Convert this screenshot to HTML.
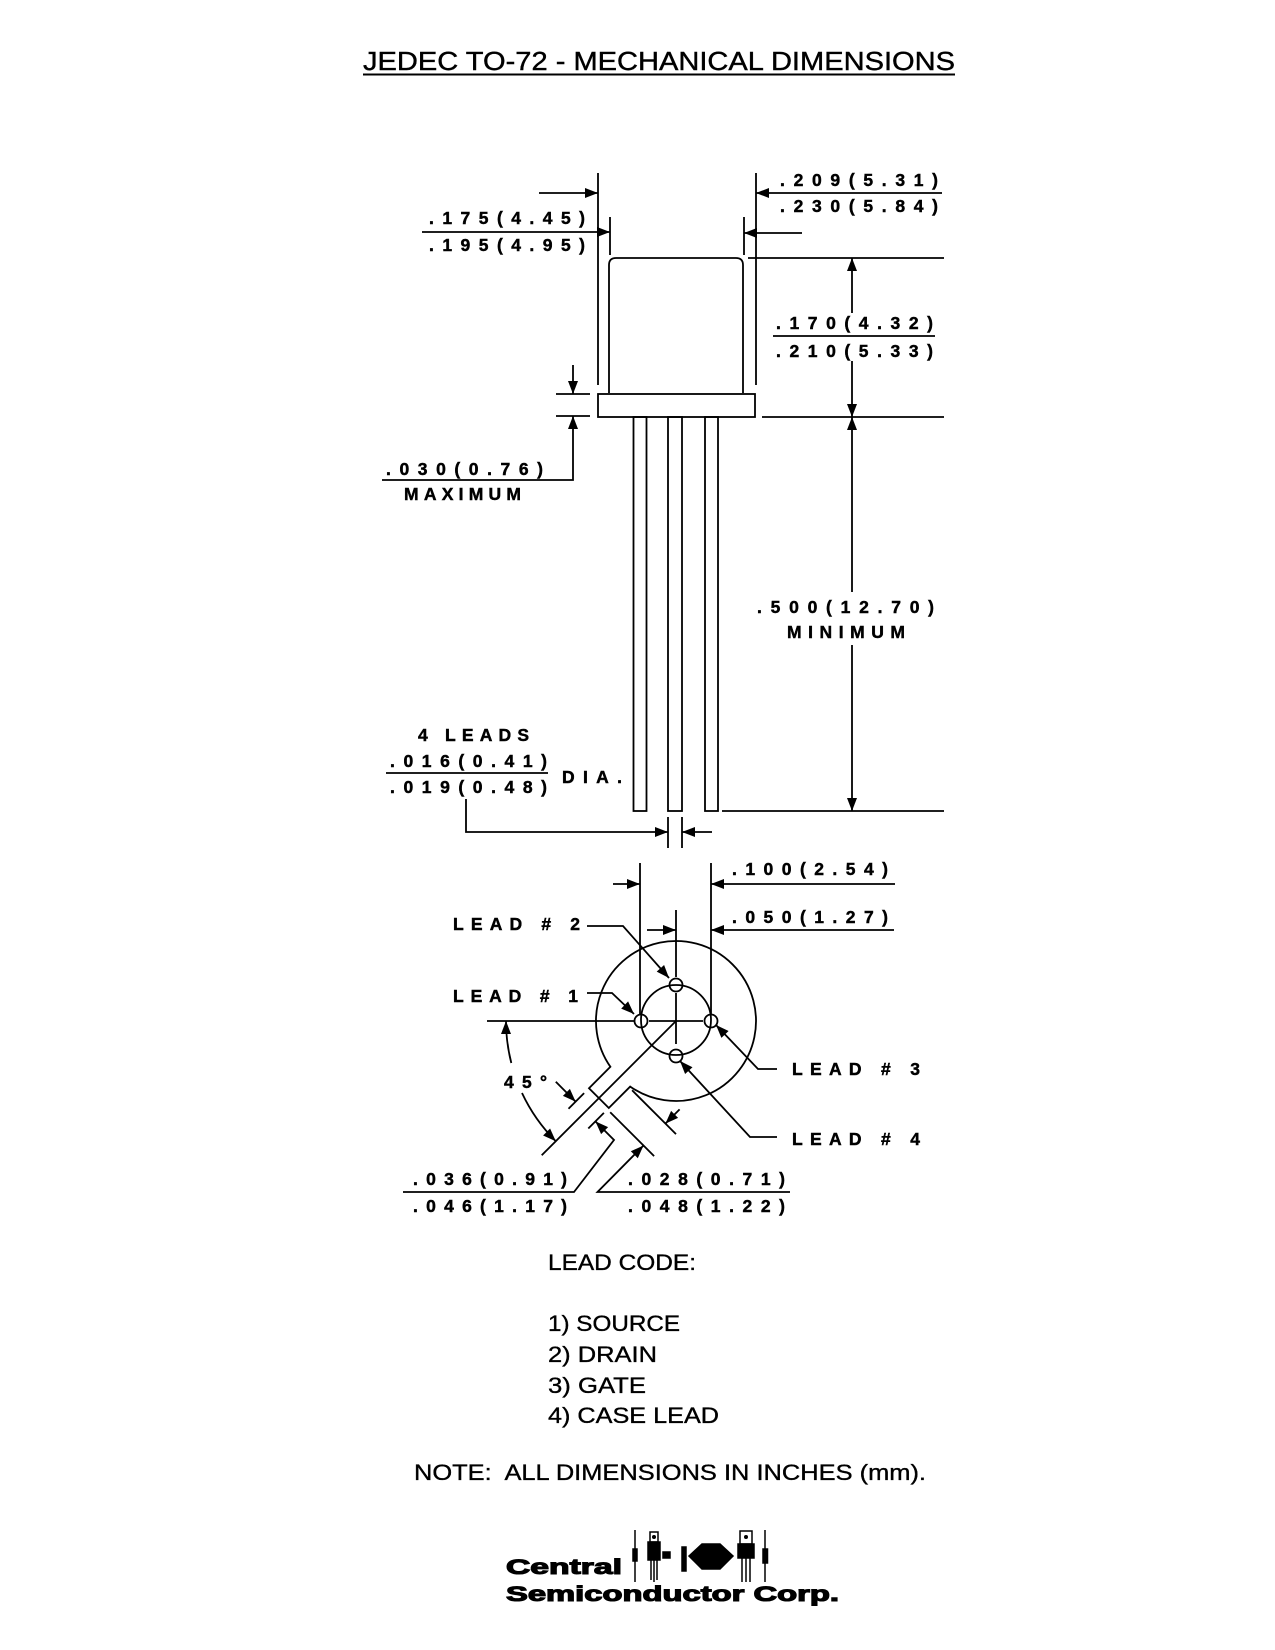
<!DOCTYPE html>
<html>
<head>
<meta charset="utf-8">
<style>
  html, body { margin:0; padding:0; background:#fff; }
  svg { display:block; }
  .d { font-family:"Liberation Sans", Arial, sans-serif; font-weight:bold; font-size:17.5px; fill:#000; stroke:#000; stroke-width:0.45; }
  .t { font-family:"Liberation Sans", Arial, sans-serif; font-size:22px; fill:#000; stroke:#000; stroke-width:0.35; }
  .lg { font-family:"Liberation Sans", Arial, sans-serif; font-weight:bold; font-size:21px; fill:#000; stroke:#000; stroke-width:1.1; }
</style>
</head>
<body>
<svg width="1275" height="1650" viewBox="0 0 1275 1650" xmlns="http://www.w3.org/2000/svg">
<rect x="0" y="0" width="1275" height="1650" fill="#fff"/>

<!-- Title -->
<text x="363" y="70" font-family="Liberation Sans, Arial, sans-serif" font-size="26" stroke="#000" stroke-width="0.4" textLength="592" lengthAdjust="spacingAndGlyphs">JEDEC TO-72 - MECHANICAL DIMENSIONS</text>
<line x1="363" y1="74.5" x2="955" y2="74.5" stroke="#000" stroke-width="2"/>

<g stroke="#000" stroke-width="1.8" fill="none">
  <!-- side view extension lines -->
  <line x1="598" y1="173" x2="598" y2="385"/>
  <line x1="610" y1="217" x2="610" y2="255"/>
  <line x1="756" y1="173" x2="756" y2="385"/>
  <line x1="744" y1="217" x2="744" y2="255"/>
  <line x1="539" y1="193" x2="598" y2="193"/>
  <line x1="422" y1="232" x2="610" y2="232"/>
  <line x1="756" y1="193" x2="942" y2="193"/>
  <line x1="744" y1="233" x2="802" y2="233"/>

  <!-- body -->
  <path d="M609,393 L609,265 Q609,258 616,258 L736,258 Q743,258 743,265 L743,393"/>
  <rect x="598" y="394" width="157" height="23"/>
  <!-- leads -->
  <rect x="633.5" y="417" width="13" height="394"/>
  <rect x="668" y="417" width="14" height="394"/>
  <rect x="705" y="417" width="13" height="394"/>

  <!-- right ext lines -->
  <line x1="748" y1="258" x2="944" y2="258"/>
  <line x1="762" y1="417" x2="944" y2="417"/>
  <line x1="722" y1="811" x2="944" y2="811"/>
  <line x1="852" y1="258" x2="852" y2="313"/>
  <line x1="852" y1="361" x2="852" y2="417"/>
  <line x1="852" y1="417" x2="852" y2="592"/>
  <line x1="852" y1="645" x2="852" y2="811"/>
  <line x1="773" y1="336" x2="935" y2="336"/>

  <!-- .030 -->
  <line x1="556" y1="394" x2="590" y2="394"/>
  <line x1="556" y1="416" x2="590" y2="416"/>
  <line x1="573" y1="365" x2="573" y2="394"/>
  <polyline points="573,416 573,480 382,480"/>

  <!-- .016 -->
  <line x1="386" y1="773" x2="548" y2="773"/>
  <polyline points="466,799 466,832 668,832"/>
  <line x1="668" y1="817" x2="668" y2="848"/>
  <line x1="682" y1="817" x2="682" y2="848"/>
  <line x1="682" y1="832" x2="712" y2="832"/>

  <!-- bottom view -->
  <path d="M630.2,1086.6 A80,80 0 1 0 610.4,1066.8 L589,1088.2 L608.8,1108 Z"/>
  <circle cx="676" cy="1020" r="35"/>
  <circle cx="641" cy="1021" r="6.5"/>
  <circle cx="676" cy="985" r="6.5"/>
  <circle cx="711" cy="1021" r="6.5"/>
  <circle cx="676" cy="1056" r="6.5"/>
  <line x1="649" y1="1021" x2="703" y2="1021"/>
  <line x1="676" y1="910" x2="676" y2="977"/>
  <line x1="676" y1="993" x2="676" y2="1044"/>
  <line x1="676" y1="1021" x2="541.7" y2="1155.3"/>
  <line x1="487" y1="1021" x2="634" y2="1021"/>

  <!-- .100 / .050 -->
  <line x1="640" y1="863" x2="640" y2="1014"/>
  <line x1="711" y1="863" x2="711" y2="1014"/>
  <line x1="613" y1="884" x2="640" y2="884"/>
  <line x1="711" y1="884" x2="895" y2="884"/>
  <line x1="647" y1="930" x2="676" y2="930"/>
  <line x1="711" y1="930" x2="894" y2="930"/>

  <!-- lead leaders -->
  <polyline points="587,926 623,926 669,978"/>
  <polyline points="587,993 612,993 634,1014"/>
  <polyline points="777,1069 758,1069 716,1025"/>
  <polyline points="777,1137 750,1137 680,1061"/>

  <!-- 45 deg arc -->
  <path d="M506,1021 A170,170 0 0 0 511.3,1063"/>
  <path d="M522,1093 A170,170 0 0 0 555.8,1141.2"/>

  <!-- tab ext lines -->
  <line x1="584.1" y1="1093.1" x2="568.5" y2="1108.7"/>
  <line x1="603.9" y1="1112.9" x2="588.3" y2="1128.5"/>
  <line x1="555.8" y1="1081.8" x2="575.6" y2="1101.6"/>
  <polyline points="595.4,1121.4 614,1140 574,1192 403,1192"/>
  <line x1="632.1" y1="1090.3" x2="676" y2="1134.1"/>
  <line x1="610.2" y1="1112.2" x2="654.1" y2="1156.1"/>
  <line x1="679.6" y1="1109.4" x2="665.4" y2="1123.6"/>
  <polyline points="643.5,1145.5 597.5,1192 790,1192"/>
</g>

<!-- arrowheads -->
<g fill="#000" stroke="none">
  <polygon points="598,193 585,188 585,198"/>
  <polygon points="610,232 597,227 597,237"/>
  <polygon points="756,193 769,188 769,198"/>
  <polygon points="744,233 757,228 757,238"/>
  <polygon points="852,258 847,271 857,271"/>
  <polygon points="852,417 847,404 857,404"/>
  <polygon points="852,417 847,430 857,430"/>
  <polygon points="852,811 847,798 857,798"/>
  <polygon points="573,394 568,381 578,381"/>
  <polygon points="573,416 568,429 578,429"/>
  <polygon points="668,832 655,827 655,837"/>
  <polygon points="682,832 695,827 695,837"/>
  <polygon points="640,884 627,879 627,889"/>
  <polygon points="711,884 724,879 724,889"/>
  <polygon points="676,930 663,925 663,935"/>
  <polygon points="711,930 724,925 724,935"/>
  <polygon points="669,978 656.7,971.6 664.1,965"/>
  <polygon points="634,1014 621.2,1008.6 628.1,1001.4"/>
  <polygon points="716,1025 728.6,1031 721.4,1037.9"/>
  <polygon points="680,1061 692.5,1067.2 685.1,1074"/>
  <polygon points="575.6,1101.6 562.9,1095.9 569.9,1088.9"/>
  <polygon points="595.4,1121.4 601.1,1134.1 608.1,1127.1"/>
  <polygon points="665.4,1123.6 678.1,1117.9 671.1,1110.9"/>
  <polygon points="643.5,1145.5 637.8,1158.2 630.8,1151.2"/>
  <polygon points="506,1021 501,1034 511,1034"/>
  <polygon points="555.8,1141.2 543.1,1135.5 550.1,1128.5"/>
</g>

<!-- dimension text -->
<text class="d" x="429" y="224" textLength="156" lengthAdjust="spacing">.175(4.45)</text>
<text class="d" x="429" y="251" textLength="156" lengthAdjust="spacing">.195(4.95)</text>
<text class="d" x="780" y="186" textLength="158" lengthAdjust="spacing">.209(5.31)</text>
<text class="d" x="780" y="212" textLength="158" lengthAdjust="spacing">.230(5.84)</text>
<text class="d" x="776" y="329" textLength="157" lengthAdjust="spacing">.170(4.32)</text>
<text class="d" x="776" y="357" textLength="157" lengthAdjust="spacing">.210(5.33)</text>
<text class="d" x="386" y="475" textLength="157" lengthAdjust="spacing">.030(0.76)</text>
<text class="d" x="404" y="500" textLength="117" lengthAdjust="spacing">MAXIMUM</text>
<text class="d" x="757" y="613" textLength="177" lengthAdjust="spacing">.500(12.70)</text>
<text class="d" x="787" y="638" textLength="118" lengthAdjust="spacing">MINIMUM</text>
<text class="d" x="418" y="741" textLength="111" lengthAdjust="spacing">4 LEADS</text>
<text class="d" x="390" y="767" textLength="157" lengthAdjust="spacing">.016(0.41)</text>
<text class="d" x="390" y="793" textLength="157" lengthAdjust="spacing">.019(0.48)</text>
<text class="d" x="562" y="783" textLength="60" lengthAdjust="spacing">DIA.</text>
<text class="d" x="732" y="875" textLength="156" lengthAdjust="spacing">.100(2.54)</text>
<text class="d" x="732" y="923" textLength="156" lengthAdjust="spacing">.050(1.27)</text>
<text class="d" x="453" y="930" textLength="127" lengthAdjust="spacing" font-size="18">LEAD # 2</text>
<text class="d" x="453" y="1002" textLength="125" lengthAdjust="spacing" font-size="18">LEAD # 1</text>
<text class="d" x="792" y="1075" textLength="128" lengthAdjust="spacing" font-size="18">LEAD # 3</text>
<text class="d" x="792" y="1145" textLength="128" lengthAdjust="spacing" font-size="18">LEAD # 4</text>
<text class="d" x="504" y="1088" textLength="43" lengthAdjust="spacing">45°</text>
<text class="d" x="413" y="1185" textLength="154" lengthAdjust="spacing">.036(0.91)</text>
<text class="d" x="413" y="1212" textLength="154" lengthAdjust="spacing">.046(1.17)</text>
<text class="d" x="628" y="1185" textLength="157" lengthAdjust="spacing">.028(0.71)</text>
<text class="d" x="628" y="1212" textLength="157" lengthAdjust="spacing">.048(1.22)</text>

<!-- lead code -->
<text class="t" x="548" y="1270" textLength="148" lengthAdjust="spacingAndGlyphs">LEAD CODE:</text>
<text class="t" x="548" y="1331" textLength="132" lengthAdjust="spacingAndGlyphs">1) SOURCE</text>
<text class="t" x="548" y="1362" textLength="109" lengthAdjust="spacingAndGlyphs">2) DRAIN</text>
<text class="t" x="548" y="1393" textLength="98" lengthAdjust="spacingAndGlyphs">3) GATE</text>
<text class="t" x="548" y="1423" textLength="171" lengthAdjust="spacingAndGlyphs">4) CASE LEAD</text>
<text class="t" x="414" y="1480" textLength="512" lengthAdjust="spacingAndGlyphs" xml:space="preserve">NOTE:  ALL DIMENSIONS IN INCHES (mm).</text>

<!-- logo -->
<text class="lg" x="506" y="1574" textLength="116" lengthAdjust="spacingAndGlyphs">Central</text>
<text class="lg" x="506" y="1601" textLength="333" lengthAdjust="spacingAndGlyphs">Semiconductor Corp.</text>
<g stroke="#000" stroke-width="1.5" fill="#000">
  <line x1="635" y1="1530" x2="635" y2="1582"/>
  <rect x="633" y="1549" width="4" height="12"/>
  <line x1="765" y1="1530" x2="765" y2="1582"/>
  <rect x="763" y="1549" width="4.5" height="14"/>
  <!-- transistor 1 -->
  <rect x="650" y="1532" width="8" height="10" fill="#fff"/>
  <rect x="648" y="1542" width="12" height="18"/>
  <line x1="651" y1="1560" x2="651" y2="1580"/>
  <line x1="654" y1="1560" x2="654" y2="1582"/>
  <line x1="657" y1="1560" x2="657" y2="1580"/>
  <!-- small -->
  <rect x="663" y="1552" width="7" height="6"/>
  <rect x="682" y="1547" width="4" height="24"/>
  <!-- TO-3 diamond -->
  <polygon points="689,1556 702,1544 720,1544 733,1556 720,1569 702,1569"/>
  <!-- TO-220 -->
  <rect x="740" y="1531" width="12" height="13" fill="#fff"/>
  <rect x="738" y="1544" width="16" height="14"/>
  <line x1="742" y1="1558" x2="742" y2="1582"/>
  <line x1="746" y1="1558" x2="746" y2="1582"/>
  <line x1="750" y1="1558" x2="750" y2="1582"/>
</g>
<circle cx="746" cy="1537" r="2" fill="#000"/>
<circle cx="654" cy="1537" r="2" fill="#000"/>
</svg>
</body>
</html>
